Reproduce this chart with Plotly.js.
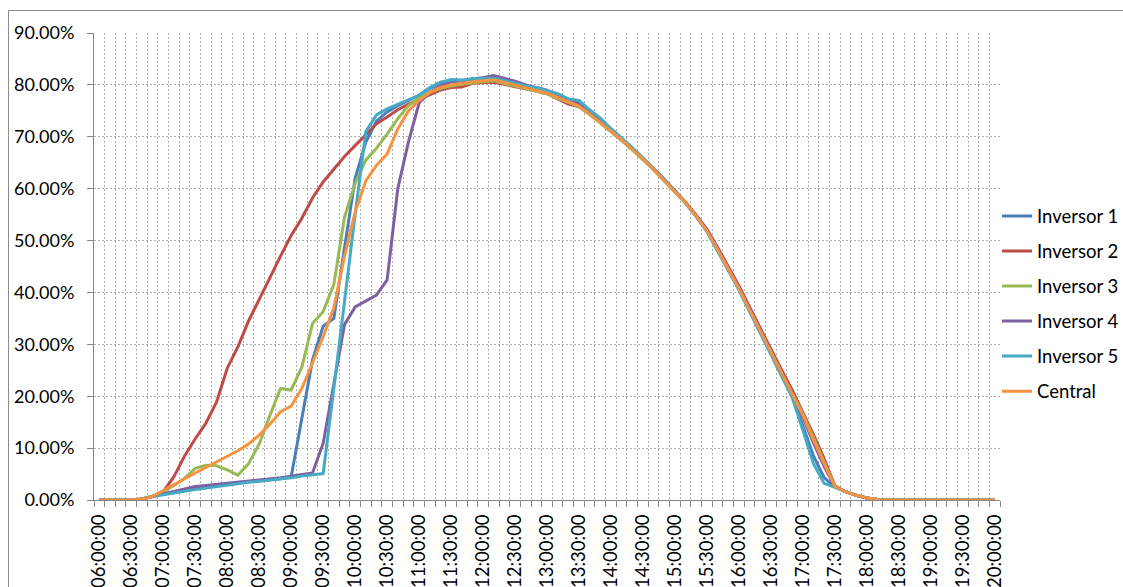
<!DOCTYPE html>
<html>
<head>
<meta charset="utf-8">
<script src="https://cdn.plot.ly/plotly-3.0.1.min.js"></script>
<style>
  html, body { margin: 0; padding: 0; background: #ffffff; overflow: hidden; }
  #frame { position: absolute; left: 8px; top: 10px; width: 1300px; height: 800px;
           border: 1px solid #8c8c8c; box-sizing: border-box; }
  #chart { position: absolute; left: 0; top: 0; width: 1123px; height: 587px; }
</style>
</head>
<body>
<div id="frame"></div>
<div id="chart"></div>
<script>
// Time of day, one reading every 10 minutes
const categories = [
  "06:00:00","06:10:00","06:20:00","06:30:00","06:40:00","06:50:00",
  "07:00:00","07:10:00","07:20:00","07:30:00","07:40:00","07:50:00",
  "08:00:00","08:10:00","08:20:00","08:30:00","08:40:00","08:50:00",
  "09:00:00","09:10:00","09:20:00","09:30:00","09:40:00","09:50:00",
  "10:00:00","10:10:00","10:20:00","10:30:00","10:40:00","10:50:00",
  "11:00:00","11:10:00","11:20:00","11:30:00","11:40:00","11:50:00",
  "12:00:00","12:10:00","12:20:00","12:30:00","12:40:00","12:50:00",
  "13:00:00","13:10:00","13:20:00","13:30:00","13:40:00","13:50:00",
  "14:00:00","14:10:00","14:20:00","14:30:00","14:40:00","14:50:00",
  "15:00:00","15:10:00","15:20:00","15:30:00","15:40:00","15:50:00",
  "16:00:00","16:10:00","16:20:00","16:30:00","16:40:00","16:50:00",
  "17:00:00","17:10:00","17:20:00","17:30:00","17:40:00","17:50:00",
  "18:00:00","18:10:00","18:20:00","18:30:00","18:40:00","18:50:00",
  "19:00:00","19:10:00","19:20:00","19:30:00","19:40:00","19:50:00",
  "20:00:00"
];

// Labelled times on the axis (every 30 minutes)
const tickLabels = [
  "06:00:00","06:30:00","07:00:00","07:30:00","08:00:00","08:30:00",
  "09:00:00","09:30:00","10:00:00","10:30:00","11:00:00","11:30:00",
  "12:00:00","12:30:00","13:00:00","13:30:00","14:00:00","14:30:00",
  "15:00:00","15:30:00","16:00:00","16:30:00","17:00:00","17:30:00",
  "18:00:00","18:30:00","19:00:00","19:30:00","20:00:00"
];

// Efficiency (%) of each inverter and of the plant
const inversor1 = [
  0,0,0,0,0.2,0.7, 1.2,1.6,2.0,2.3,2.6,2.9, 3.1,3.3,3.5,3.7,3.9,4.1,
  4.5,15.5,27.0,33.5,35.0,48.5, 62.0,69.0,73.0,74.8,76.0,77.0,
  78.0,79.3,80.3,81.0,80.9,81.1, 81.3,81.5,80.8,80.3,79.6,79.2,
  78.8,78.1,77.3,76.4,74.7,73.0, 71.3,69.6,67.8,65.9,63.9,61.8,
  59.6,57.3,54.7,51.9,48.3,44.6, 40.8,36.6,32.4,28.3,24.3,20.2,
  14.5,8.5,4.3,2.5,1.6,0.9, 0.4,0.1,0,0,0,0, 0,0,0,0,0,0, 0
];
const inversor2 = [
  0,0,0,0,0.2,0.7, 1.6,4.5,8.5,11.8,14.8,18.9, 25.4,29.5,34.5,38.8,42.8,47.0,
  51.0,54.3,58.2,61.3,63.8,66.2, 68.3,70.3,72.5,73.8,75.2,76.3,
  77.2,78.0,79.0,79.5,79.6,80.3, 80.4,80.5,80.1,79.7,79.2,78.8,
  78.3,77.3,76.3,75.8,74.4,72.8, 71.1,69.4,67.6,65.7,63.8,61.7,
  59.6,57.4,54.9,52.2,48.7,45.0, 41.3,37.2,33.1,29.1,25.1,21.2,
  17.0,12.6,8.0,2.8,1.6,0.9, 0.4,0.1,0,0,0,0, 0,0,0,0,0,0, 0
];
const inversor3 = [
  0,0,0,0,0.2,0.7, 1.6,2.8,4.2,6.1,6.7,6.6, 5.8,4.8,7.0,10.8,16.3,21.5,
  21.2,25.6,34.0,36.3,41.5,54.5, 61.0,65.5,67.8,70.5,73.5,76.0,
  77.5,78.5,79.3,79.8,80.1,80.4, 80.6,80.8,80.3,79.8,79.3,78.8,
  78.3,77.4,76.6,75.8,74.3,72.7, 71.0,69.3,67.5,65.6,63.6,61.5,
  59.4,57.2,54.6,51.8,48.2,44.6, 40.8,36.7,32.6,28.6,24.6,20.7,
  16.6,12.0,7.4,2.7,1.6,0.9, 0.4,0.1,0,0,0,0, 0,0,0,0,0,0, 0
];
const inversor4 = [
  0,0,0,0,0.2,0.7, 1.2,1.7,2.2,2.6,2.8,3.0, 3.2,3.4,3.6,3.8,4.0,4.3,
  4.6,4.9,5.2,10.9,22.0,33.8, 37.2,38.3,39.5,42.4,60.0,69.0,
  76.5,78.5,79.8,80.6,80.7,81.2, 81.4,81.8,81.3,80.7,80.0,79.5,
  79.0,78.0,77.2,76.2,74.6,72.9, 71.2,69.5,67.7,65.8,63.8,61.7,
  59.5,57.3,54.8,52.0,48.5,44.8, 41.0,36.9,32.8,28.8,24.8,20.6,
  16.0,11.0,6.5,2.6,1.6,0.9, 0.4,0.1,0,0,0,0, 0,0,0,0,0,0, 0
];
const inversor5 = [
  0,0,0,0,0.2,0.7, 1.0,1.4,1.7,2.0,2.3,2.6, 2.9,3.2,3.4,3.6,3.8,4.0,
  4.3,4.6,4.9,5.1,21.5,38.5, 55.0,71.0,74.2,75.4,76.3,77.2,
  78.0,79.5,80.5,81.0,80.9,81.2, 81.3,81.3,80.8,80.3,79.8,79.5,
  78.9,78.3,77.3,77.0,75.2,73.6, 71.6,69.8,67.9,65.9,63.9,61.7,
  59.5,57.2,54.6,51.7,48.0,44.3, 40.5,36.3,32.2,28.2,24.0,19.8,
  13.5,7.0,3.2,2.4,1.6,0.9, 0.4,0.1,0,0,0,0, 0,0,0,0,0,0, 0
];
const central = [
  0,0,0,0,0.2,0.7, 1.8,3.0,4.1,5.2,6.3,7.4, 8.5,9.5,10.8,12.5,14.6,17.0,
  18.1,21.5,26.4,31.5,37.0,47.0, 55.5,61.5,64.5,66.7,71.5,75.0,
  77.0,78.5,79.5,80.0,80.3,80.6, 80.8,81.0,80.5,80.0,79.4,78.9,
  78.4,77.6,76.8,75.9,74.4,72.8, 71.1,69.4,67.6,65.7,63.7,61.6,
  59.5,57.3,54.7,51.9,48.3,44.6, 40.8,36.7,32.6,28.6,24.6,20.6,
  16.4,11.6,7.0,2.6,1.6,0.9, 0.4,0.1,0,0,0,0, 0,0,0,0,0,0, 0
];

const seriesNames = ["Inversor 1","Inversor 2","Inversor 3","Inversor 4","Inversor 5","Central"];
const seriesColors = ["#4a7ebb","#be4b48","#98b954","#7d60a0","#46aac5","#f69240"];
const seriesValues = [inversor1, inversor2, inversor3, inversor4, inversor5, central];

// Category positions on a numeric axis so gridlines can sit between readings
const xIndex = categories.map((_, i) => i);
const tickPositions = tickLabels.map(t => categories.indexOf(t));
const boundaries = categories.map((_, i) => i - 0.5).concat([categories.length - 0.5]);

const FONT = "Lato, 'Noto Sans', sans-serif";

const traces = seriesValues.map((vals, k) => ({
  type: "scatter",
  mode: "lines",
  name: seriesNames[k],
  legendgroup: "g" + k,
  x: xIndex,
  y: vals,
  line: { color: seriesColors[k], width: 3 },
  hovertemplate: "%{text}<br>%{y:.2f}%<extra>" + seriesNames[k] + "</extra>",
  text: categories
}));

const layout = {
  width: 1123,
  height: 587,
  margin: { l: 94, r: 123, t: 33, b: 87, autoexpand: false },
  paper_bgcolor: "rgba(0,0,0,0)",
  plot_bgcolor: "#ffffff",
  font: { family: FONT, size: 18, color: "#000000" },
  showlegend: true,
  legend: {
    x: 0.9967, xanchor: "left", xref: "paper",
    y: 0.42, yanchor: "middle",
    font: { family: FONT, size: 18.5, color: "#000000" },
    tracegroupgap: 8,
    bgcolor: "rgba(0,0,0,0)",
    borderwidth: 0
  },
  xaxis: {
    range: [-0.5, categories.length - 0.5],
    tickmode: "array",
    tickvals: tickPositions,
    ticktext: tickLabels,
    tickangle: -90,
    ticks: "",
    showgrid: false,
    zeroline: false,
    showline: true,
    linecolor: "#868686",
    linewidth: 1,
    ticklabelstandoff: 6,
    tickfont: { family: FONT, size: 18.5, color: "#000000" },
    minor: {
      tickmode: "array",
      tickvals: boundaries,
      ticks: "outside",
      ticklen: 6,
      tickcolor: "#868686",
      showgrid: true,
      gridcolor: "#acacac",
      griddash: "2px,2px",
      gridwidth: 1
    },
    fixedrange: true
  },
  yaxis: {
    range: [0, 90],
    tickmode: "linear",
    tick0: 0,
    dtick: 10,
    tickformat: ".2f",
    ticksuffix: "%",
    ticks: "outside",
    ticklen: 6,
    tickcolor: "#868686",
    showgrid: true,
    gridcolor: "#acacac",
    griddash: "2px,2px",
    gridwidth: 1,
    zeroline: false,
    showline: true,
    linecolor: "#868686",
    linewidth: 1,
    ticklabelstandoff: 9,
    tickfont: { family: FONT, size: 18, color: "#000000" },
    fixedrange: true
  }
};

Plotly.newPlot("chart", traces, layout, { displayModeBar: false, staticPlot: true });
</script>
</body>
</html>
